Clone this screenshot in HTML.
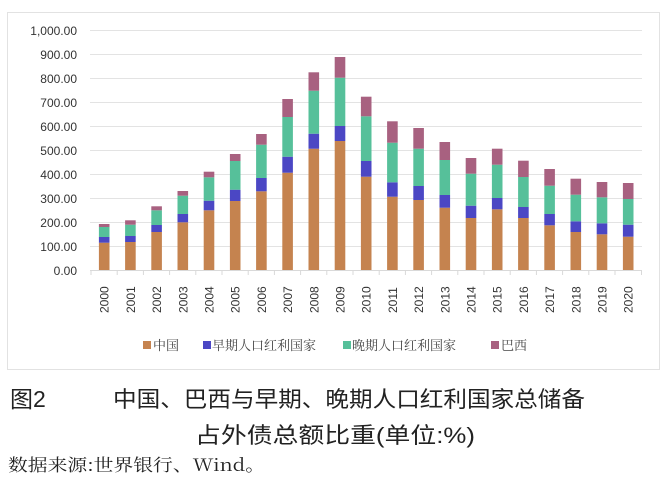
<!DOCTYPE html>
<html><head><meta charset="utf-8"><style>
body{margin:0;background:#fff;width:664px;height:482px;overflow:hidden;position:relative}
svg{position:absolute;left:0;top:0}
</style></head><body>
<svg width="664" height="482" xmlns="http://www.w3.org/2000/svg" font-family="'Liberation Sans','Noto Sans CJK SC',sans-serif">
<rect x="7.5" y="12.5" width="652" height="357" fill="#fff" stroke="#e2e2e2"/>
<g stroke="#e3e3e3" stroke-width="1">
<line x1="90" x2="642" y1="30.5" y2="30.5"/><line x1="90" x2="642" y1="54.5" y2="54.5"/><line x1="90" x2="642" y1="78.5" y2="78.5"/><line x1="90" x2="642" y1="102.5" y2="102.5"/><line x1="90" x2="642" y1="126.5" y2="126.5"/><line x1="90" x2="642" y1="150.5" y2="150.5"/><line x1="90" x2="642" y1="174.5" y2="174.5"/><line x1="90" x2="642" y1="198.5" y2="198.5"/><line x1="90" x2="642" y1="222.5" y2="222.5"/><line x1="90" x2="642" y1="246.5" y2="246.5"/>
<line x1="90" x2="642" y1="270.5" y2="270.5" stroke="#d9d9d9"/>
</g>
<g font-size="12" fill="#333" text-anchor="end">
<text x="77" y="35">1,000.00</text><text x="77" y="59">900.00</text><text x="77" y="83">800.00</text><text x="77" y="107">700.00</text><text x="77" y="131">600.00</text><text x="77" y="155">500.00</text><text x="77" y="179">400.00</text><text x="77" y="203">300.00</text><text x="77" y="227">200.00</text><text x="77" y="251">100.00</text><text x="77" y="275">0.00</text>
</g>
<g id="bars"></g>
<g id="lbl" font-size="12" fill="#333"></g>
<g id="ticks" stroke="#d9d9d9"></g>
<g font-family="'Liberation Serif','Noto Serif CJK SC',serif" font-size="13" fill="#444">
<rect x="143" y="341" width="8" height="8" fill="#c5834f"/><text x="153" y="350">中国</text>
<rect x="203" y="341" width="8" height="8" fill="#4b47c4"/><text x="212" y="350">早期人口红利国家</text>
<rect x="343" y="341" width="8" height="8" fill="#56c09a"/><text x="352" y="350">晚期人口红利国家</text>
<rect x="491" y="341" width="8" height="8" fill="#a86180"/><text x="501" y="350">巴西</text>
</g>
<g font-family="'Liberation Sans','Noto Sans CJK SC',sans-serif" fill="#222">
<text x="10" y="407" font-size="23">图2</text>
<text x="113" y="407" font-size="22" textLength="472" lengthAdjust="spacingAndGlyphs">中国、巴西与早期、晚期人口红利国家总储备</text>
<text x="195" y="443" font-size="22" textLength="280" lengthAdjust="spacingAndGlyphs">占外债总额比重(单位:%)</text>
</g>
<text x="8" y="471" font-family="'Noto Serif CJK SC','Liberation Serif',serif" font-size="17" fill="#222" textLength="257" lengthAdjust="spacingAndGlyphs">数据来源:世界银行、Wind。</text>
</svg>
<script>
var d=[[242.7,237,227,224],[242,236,224.7,220.3],[232,225,210.3,206.3],[222.3,214,195.7,191],[210.3,200.7,177.3,171.7],[201,189.7,161,154],[191.3,178,144.7,134],[172.7,156.7,117,99],[148.7,133.7,90.7,72.3],[141,126,77.7,57],[176.7,161,116.3,96.7],[196.7,182.3,142.7,121.3],[200,186,148.7,128],[207.7,195,160,142],[218,205.7,173.7,158],[209.3,198,164.7,148.7],[218,207,177,160.7],[225.3,214,185.7,169],[232,221.3,194.7,178.7],[234.3,223.3,197.3,182],[236.7,224.7,199,183]];
var c=["#c5834f","#4b47c4","#56c09a","#a86180"];
var ns="http://www.w3.org/2000/svg",b=document.getElementById("bars"),l=document.getElementById("lbl"),t=document.getElementById("ticks");
function el(tag,a,p){var e=document.createElementNS(ns,tag);for(var k in a)e.setAttribute(k,a[k]);p.appendChild(e);return e;}
d.forEach(function(v,i){var cx=104.2+26.2*i,prev=270;
for(var j=0;j<4;j++){el("rect",{x:cx-5.3,y:v[j],width:10.6,height:prev-v[j],fill:c[j]},b);prev=v[j];}
var tx=el("text",{x:0,y:0,transform:"translate("+(cx+4.5)+",313) rotate(-90)"},l);tx.textContent=2000+i;
var tk=91+26.2*i;el("line",{x1:tk,x2:tk,y1:270,y2:275},t);
});
el("line",{x1:641.5,x2:641.5,y1:270,y2:275},t);
</script>
</body></html>
